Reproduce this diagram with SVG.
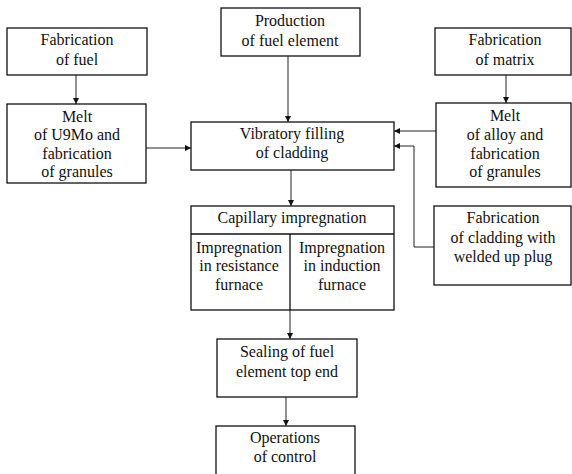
<svg xmlns="http://www.w3.org/2000/svg" width="572" height="474" viewBox="0 0 572 474">
<style>
.box{fill:#fff;stroke:#111;stroke-width:1.3}
.ln{fill:none;stroke:#222;stroke-width:1}
</style>
<defs>
<marker id="ah" markerWidth="6" markerHeight="6" refX="6" refY="3" orient="auto" markerUnits="userSpaceOnUse">
<path d="M0,0 L6,3 L0,6 Z" fill="#111"/>
</marker>
</defs>
<rect width="572" height="474" fill="#fff"/>
<g id="connectors">
<line class="ln" x1="76" y1="75" x2="76" y2="104" marker-end="url(#ah)"/>
<line class="ln" x1="506" y1="75" x2="506" y2="103" marker-end="url(#ah)"/>
<line class="ln" x1="288" y1="56" x2="288" y2="122" marker-end="url(#ah)"/>
<line class="ln" x1="146" y1="148" x2="191" y2="148" marker-end="url(#ah)"/>
<line class="ln" x1="436" y1="131" x2="394" y2="131" marker-end="url(#ah)"/>
<polyline class="ln" points="434,247 414,247 414,146 394,146" marker-end="url(#ah)"/>
<line class="ln" x1="291" y1="170" x2="291" y2="206" marker-end="url(#ah)"/>
<line class="ln" x1="290" y1="310" x2="290" y2="339" marker-end="url(#ah)"/>
<line class="ln" x1="286" y1="397" x2="286" y2="426" marker-end="url(#ah)"/>
</g>
<g font-family="Liberation Serif, DejaVu Serif, serif" font-size="16" fill="#111" text-anchor="middle">
<g id="fab-fuel">
<rect class="box" x="7" y="28" width="140" height="47"/>
<text x="77" y="45">Fabrication</text>
<text x="77" y="65">of fuel</text>
</g>
<g id="melt-u9mo">
<rect class="box" x="7" y="104" width="139" height="79"/>
<text x="77" y="122">Melt</text>
<text x="77" y="140">of U9Mo and</text>
<text x="77" y="159">fabrication</text>
<text x="77" y="177">of granules</text>
</g>
<g id="production">
<rect class="box" x="221" y="8" width="139" height="48"/>
<text x="290" y="26">Production</text>
<text x="290" y="46">of fuel element</text>
</g>
<g id="fab-matrix">
<rect class="box" x="435" y="28" width="136" height="47"/>
<text x="505" y="45">Fabrication</text>
<text x="505" y="65">of matrix</text>
</g>
<g id="melt-alloy">
<rect class="box" x="436" y="103" width="135" height="84"/>
<text x="505" y="121">Melt</text>
<text x="505" y="140">of alloy and</text>
<text x="505" y="159">fabrication</text>
<text x="505" y="177">of granules</text>
</g>
<g id="vibratory">
<rect class="box" x="191" y="122" width="203" height="48"/>
<text x="292" y="139">Vibratory filling</text>
<text x="292" y="158">of cladding</text>
</g>
<g id="capillary">
<rect class="box" x="191" y="206" width="203" height="104"/>
<line class="box" x1="191" y1="234" x2="394" y2="234"/>
<line class="box" x1="290" y1="234" x2="290" y2="310"/>
<text x="292" y="223">Capillary impregnation</text>
<text x="239" y="253">Impregnation</text>
<text x="239" y="271">in resistance</text>
<text x="239" y="290">furnace</text>
<text x="342" y="253">Impregnation</text>
<text x="342" y="271">in induction</text>
<text x="342" y="290">furnace</text>
</g>
<g id="fab-cladding">
<rect class="box" x="434" y="206" width="137" height="79"/>
<text x="503" y="223">Fabrication</text>
<text x="503" y="243">of cladding with</text>
<text x="503" y="262">welded up plug</text>
</g>
<g id="sealing">
<rect class="box" x="217" y="339" width="140" height="58"/>
<text x="287" y="357">Sealing of fuel</text>
<text x="287" y="377">element top end</text>
</g>
<g id="operations">
<rect class="box" x="216" y="426" width="139" height="52"/>
<text x="285" y="443">Operations</text>
<text x="285" y="462">of control</text>
</g>
</g>
</svg>
